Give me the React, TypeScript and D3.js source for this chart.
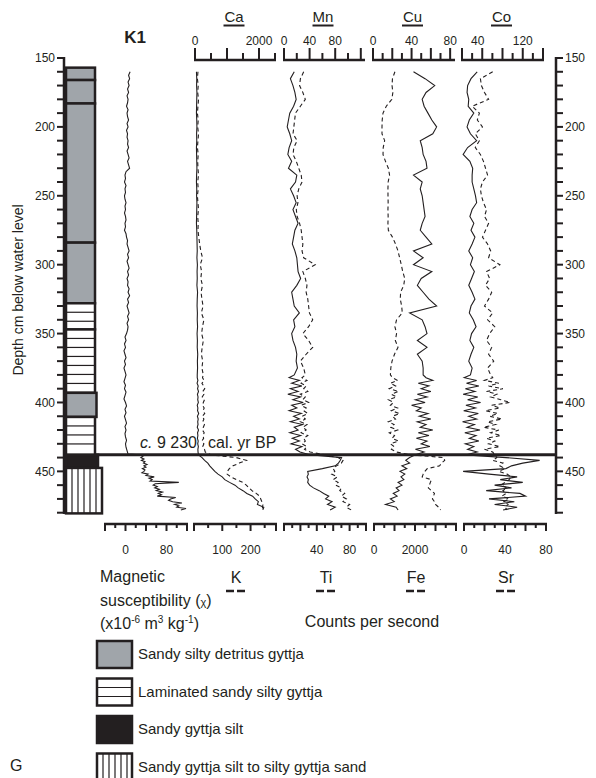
import * as d3 from 'd3';

// sample depths (cm) of the XRF scans
const xrfDepth = [
  160, 165, 170, 175, 180, 185, 190, 195, 200, 205, 210, 215, 220, 225, 230, 235, 240, 245, 250, 255, 260, 265, 270, 275, 280, 285, 290, 295, 300, 305, 310, 315, 320, 325, 330, 335, 340, 345, 350, 355, 360, 365, 370, 375, 380,
  382, 384, 386, 388, 390, 392, 394, 396, 398, 400, 402, 404, 406, 408, 410, 412, 414, 416, 418, 420, 422, 424, 426, 428, 430, 432, 434, 436,
  438, 440, 442, 444, 446, 448, 450, 452, 454, 456, 458, 460, 462, 464, 466, 468, 470, 472, 474, 476, 478,
];

const ca = [
  45, 55, 50, 60, 55, 50, 45, 55, 60, 50, 55, 45, 50, 55, 60, 50, 45, 55, 50, 60, 55, 50, 45, 55, 60, 65, 70, 60, 75, 65, 70, 60, 80, 70, 65, 75, 70, 80, 65, 75, 70, 85, 75, 80, 70,
  70, 90, 65, 100, 80, 110, 75, 95, 85, 105, 70, 90, 80, 115, 75, 100, 85, 95, 70, 110, 80, 90, 75, 100, 85, 105, 90, 95,
  110, 220, 300, 400, 460, 540, 620, 720, 850, 930, 1080, 1250, 1350, 1500, 1620, 1800, 1880, 1980, 1950, 2150, 2120,
];
const k = [
  14, 12, 15, 13, 16, 14, 12, 15, 13, 16, 14, 12, 15, 13, 14, 16, 13, 15, 12, 14, 16, 13, 15, 14, 17, 20, 24, 30, 22, 27, 24, 30, 25, 28, 32, 26, 35, 30, 27, 33, 29, 26, 31, 28, 33,
  30, 36, 28, 34, 38, 31, 35, 29, 37, 33, 30, 36, 32, 38, 29, 35, 31, 37, 33, 30, 36, 32, 34, 28, 35, 31, 37, 40,
  60, 150, 185, 160, 138, 125, 118, 117, 130, 150, 172, 185, 195, 205, 220, 232, 236, 240, 244, 242, 246,
];
const mn = [
  16, 10, 14, 17, 19, 15, 9, 7, 5, 9, 12, 8, 6, 12, 7, 20, 18, 10, 15, 19, 14, 18, 22, 17, 15, 13, 17, 20, 21, 22, 26, 20, 12, 14, 16, 24, 15, 17, 12, 14, 18, 20, 19, 21, 16,
  8, 24, 12, 28, 10, 22, 6, 26, 14, 30, 12, 20, 8, 27, 15, 24, 10, 29, 16, 22, 9, 26, 13, 24, 11, 28, 18, 25,
  40, 90, 88, 85, 80, 60, 37, 38, 36, 38, 37, 40, 46, 55, 62, 70, 65, 75, 68, 80, 72,
];
const ti = [
  24, 20, 19, 23, 26, 20, 14, 13, 12, 11, 16, 12, 11, 15, 18, 21, 22, 18, 16, 17, 15, 16, 19, 21, 22, 23, 22, 24, 38, 23, 26, 28, 27, 29, 30, 31, 35, 30, 23, 30, 35, 27, 20, 24, 26,
  22, 28, 21, 27, 24, 29, 20, 26, 23, 30, 21, 27, 24, 29, 22, 26, 20, 28, 23, 27, 21, 29, 24, 26, 22, 28, 25, 32,
  50, 66, 72, 70, 64, 60, 62, 58, 65, 60, 66, 63, 70, 68, 74, 70, 76, 72, 80, 76, 82,
];
const cu = [
  42, 54, 64, 55, 51, 53, 57, 61, 66, 62, 49, 51, 52, 55, 56, 42, 51, 49, 51, 52, 53, 54, 51, 49, 55, 61, 42, 52, 42, 61, 50, 46, 52, 58, 66, 38, 51, 54, 56, 46, 56, 46, 51, 52, 52,
  55, 62, 47, 58, 50, 60, 46, 56, 44, 54, 40, 50, 45, 57, 48, 60, 46, 55, 49, 62, 47, 58, 45, 56, 50, 59, 44, 53,
  44, 38, 34, 38, 30, 35, 28, 33, 29, 32, 26, 30, 24, 27, 21, 25, 18, 22, 13, 24, 26,
];
const fe = [
  1020, 900, 880, 920, 870, 600, 440, 400, 390, 390, 520, 450, 440, 560, 700, 760, 690, 680, 683, 690, 680, 690, 680, 700, 900, 1050, 1170, 1250, 1330, 1400, 1500, 1450, 1300, 1280, 1350, 1380, 1100, 1020, 1100, 1040, 1170, 1000, 880, 820, 800,
  900, 1150, 800, 1050, 750, 1200, 850, 1100, 700, 950, 800, 1150, 850, 1250, 900, 1050, 700, 980, 820, 1150, 750, 1000, 880, 1200, 800, 980, 850, 1100,
  1800, 3400, 3450, 3300, 3200, 2600, 2480, 2400, 2350, 2800, 2750, 2700, 2650, 2800, 2950, 2900, 2850, 2950, 3000, 3150, 3250,
];
const co = [
  39, 28, 22, 21, 24, 23, 33, 25, 21, 27, 38, 22, 14, 26, 31, 30, 30, 33, 36, 38, 30, 26, 33, 28, 35, 30, 24, 31, 27, 34, 29, 24, 30, 35, 28, 25, 32, 37, 29, 26, 33, 28, 24, 30, 27,
  16, 38, 20, 42, 18, 35, 14, 40, 22, 45, 19, 36, 15, 41, 24, 38, 13, 34, 21, 44, 17, 37, 25, 42, 18, 33, 22, 39,
  20, 90, 150, 120, 100, 90, 14, 60, 110, 80, 120, 70, 100, 55, 115, 125, 60, 105, 70, 110, 85,
];
const sr = [
  28, 16, 17, 20, 24, 8, 15, 13, 18, 11, 15, 11, 16, 19, 21, 23, 18, 16, 17, 19, 22, 20, 24, 21, 18, 23, 26, 24, 35, 22, 25, 21, 27, 24, 20, 28, 23, 30, 25, 22, 27, 24, 29, 23, 26,
  28, 20, 34, 24, 38, 22, 32, 26, 36, 45, 27, 35, 21, 33, 25, 37, 23, 31, 19, 34, 26, 36, 22, 30, 24, 35, 20, 28,
  30, 32, 28, 38, 35, 40, 34, 42, 46, 44, 40, 36, 42, 38, 41, 37, 44, 39, 43, 40, 42,
];

// magnetic susceptibility
const magDepth = [
  160, 162.5, 165, 167.5, 170, 172.5, 175, 177.5, 180, 182.5, 185, 187.5, 190, 192.5, 195, 197.5, 200, 202.5, 205, 207.5, 210, 212.5, 215, 217.5, 220, 222.5, 225, 227.5, 230,
  232.5, 235, 237.5, 240, 242.5, 245, 247.5, 250, 252.5, 255, 257.5, 260, 262.5, 265, 267.5, 270, 272.5, 275, 277.5, 280,
  282.5, 285, 287.5, 290, 292.5, 295, 297.5, 300, 302.5, 305, 307.5, 310, 312.5, 315, 317.5, 320, 322.5, 325, 327.5, 330, 332.5, 335, 337.5, 340, 342.5, 345, 347.5, 350,
  352.5, 355, 357.5, 360, 362.5, 365, 367.5, 370, 372.5, 375, 377.5, 380, 382.5, 385, 387.5, 390, 392.5, 395, 397.5, 400, 402.5, 405, 407.5, 410, 412.5, 415, 417.5, 420, 422.5, 425, 427.5, 430, 432.5, 435, 437.5,
  438, 439, 440, 441, 442, 443, 444, 445, 446, 447, 448, 449, 450, 451, 452, 453, 454, 455, 456, 457, 458, 459, 460, 461, 462, 463, 464, 465, 466, 467, 468, 469, 470, 471, 472, 473, 474, 475, 476, 477, 478,
];
const magSus = [
  9, 6, 8, 5, 7, 4, 6, 3, 5, 4, 2, 5, 3, 4, 6, 3, 5, 2, 4, 3, 5, 4, 6, 3, 5, 7, 4, 6, 8,
  1, -1, 0, -2, 1, -1, 0, -2, -1, 1, -1, 0, -2, 0, 1, -1, 0, -2, 1, 2,
  4, 3, 5, 7, 4, 6, 3, 5, 7, 4, 6, 3, 5, 4, 7, 5, 8, 4, 6, 3, 5, 7, 4, 6, 3, 5, 4, 2,
  -1, 1, -2, 0, -3, -1, 1, -2, 0, -3, -1, 1, -1, -3, 0, -2, 1, -1, -3, 0, 2, -1, 1, -2, 0, 2, -1, 1, -1, 0, 2, 0, 1, 3, 5,
  28, 34, 30, 36, 31, 38, 35, 42, 36, 40, 33, 38, 36, 32, 44, 40, 56, 46, 52, 48, 104, 58, 54, 62, 57, 66, 60, 72, 64, 70, 62, 98, 88, 84, 92, 110, 96, 104, 100, 118, 108,
];

// lithology
const lithTop = [157, 166, 183, 284, 328, 347, 393, 410.5, 438, 447.5];
const lithBase = [166, 183, 284, 328, 347, 393, 410.5, 438, 447.5, 480.5];
const lithKind = ['detritus', 'detritus', 'detritus', 'detritus', 'laminated', 'laminated', 'detritus', 'laminated', 'silt', 'sand'];

const legendKinds = ['detritus', 'laminated', 'silt', 'sand'];
const legendLabels = [
  'Sandy silty detritus gyttja',
  'Laminated sandy silty gyttja',
  'Sandy gyttja silt',
  'Sandy gyttja silt to silty gyttja sand',
];

const depthLabels = [150, 200, 250, 300, 350, 400, 450];
const caLabels = [0, 2000];
const mnLabels = [0, 40, 80];
const cuLabels = [0, 40, 80];
const coLabels = [40, 120];
const magLabels = [0, 80];
const kLabels = [100, 200];
const tiLabels = [40, 80];
const feLabels = [0, 2000];
const srLabels = [0, 40, 80];

const boundaryDepth = 438;

const INK = '#231f20';
const GREY = '#a0a5aa';
const FONT = '"Liberation Sans", Arial, Helvetica, sans-serif';

type Scale = d3.ScaleLinear<number, number>;

function TopAxis({ sx, ticks, labels, name, lineY }: { sx: Scale; ticks: number[]; labels: number[]; name: string; lineY: number }) {
  const [r0, r1] = sx.range();
  const cx = (r0 + r1) / 2 - 1;
  return (
    <g>
      <text x={cx} y={22} textAnchor="middle" fontSize={15}>{name}</text>
      <line x1={cx - 10.5} x2={cx + 10.5} y1={25.5} y2={25.5} stroke={INK} strokeWidth={2} />
      {labels.map((v) => (
        <text key={v} x={sx(v)} y={45} textAnchor="middle" fontSize={12}>{v}</text>
      ))}
      <line x1={r0 - 1} x2={r1 + 1} y1={lineY} y2={lineY} stroke={INK} strokeWidth={2.5} />
      {ticks.map((t, i) => (
        <line key={t} x1={sx(t)} x2={sx(t)} y1={lineY} y2={lineY - (i % 2 === 0 ? 12 : 7)} stroke={INK} strokeWidth={2} />
      ))}
    </g>
  );
}

function BottomAxis({ sx, ticks, labels, name, lineY }: { sx: Scale; ticks: number[]; labels: number[]; name?: string; lineY: number }) {
  const [r0, r1] = sx.range();
  const cx = (r0 + r1) / 2 + 1;
  return (
    <g>
      <line x1={r0 - 1} x2={r1 + 1} y1={lineY} y2={lineY} stroke={INK} strokeWidth={2.5} />
      {ticks.map((t, i) => (
        <line key={t} x1={sx(t)} x2={sx(t)} y1={lineY} y2={lineY + (i % 2 === 0 ? 7 : 4)} stroke={INK} strokeWidth={2} />
      ))}
      {labels.map((v) => (
        <text key={v} x={sx(v)} y={lineY + 30} textAnchor="middle" fontSize={12}>{v}</text>
      ))}
      {name && (
        <g>
          <text x={cx} y={583} textAnchor="middle" fontSize={16}>{name}</text>
          <line x1={cx - 10} x2={cx + 10} y1={591} y2={591} stroke={INK} strokeWidth={2.5} strokeDasharray="8,3" />
        </g>
      )}
    </g>
  );
}

function LithBox({ kind, x, y0, w, h }: { kind: string; x: number; y0: number; w: number; h: number }) {
  const inner: JSX.Element[] = [];
  if (kind === 'laminated') {
    for (let yy = y0 + 9; yy < y0 + h - 3; yy += 9) {
      inner.push(<line key={yy} x1={x} x2={x + w} y1={yy} y2={yy} stroke={INK} strokeWidth={1.2} />);
    }
  }
  if (kind === 'sand') {
    for (let xx = x + 6; xx < x + w - 2; xx += 6) {
      inner.push(<line key={xx} x1={xx} x2={xx} y1={y0} y2={y0 + h} stroke={INK} strokeWidth={1.2} />);
    }
  }
  const fill = kind === 'detritus' ? GREY : kind === 'silt' ? INK : '#fff';
  return (
    <g>
      <rect x={x} y={y0} width={w} height={h} fill={fill} />
      {inner}
      <rect x={x} y={y0} width={w} height={h} fill="none" stroke={INK} strokeWidth={2.5} />
    </g>
  );
}

export default function App() {
  const y = d3.scaleLinear().domain([150, 480]).range([58, 512.7]);

  const caX = d3.scaleLinear().domain([0, 2500]).range([195, 275]);
  const mnX = d3.scaleLinear().domain([0, 125]).range([284, 364]);
  const cuX = d3.scaleLinear().domain([0, 84]).range([373, 454]);
  const coX = d3.scaleLinear().domain([12, 156]).range([462, 543]);

  const magX = d3.scaleLinear().domain([-40, 120]).range([105, 187]);
  const kX = d3.scaleLinear().domain([0, 290]).range([194, 276]);
  const tiX = d3.scaleLinear().domain([0, 100]).range([284, 366]);
  const feX = d3.scaleLinear().domain([0, 4000]).range([374, 456]);
  const srX = d3.scaleLinear().domain([0, 80]).range([464, 546]);

  const xrfLine = (vals: number[], sx: Scale) =>
    d3.line<number>().x((v) => sx(v)).y((_, i) => y(xrfDepth[i]))(vals) ?? '';
  const magPath = d3.line<number>().x((v) => magX(v)).y((_, i) => y(magDepth[i]))(magSus) ?? '';

  const series = [
    { vals: ca, sx: caX, dashed: false },
    { vals: k, sx: kX, dashed: true },
    { vals: mn, sx: mnX, dashed: false },
    { vals: ti, sx: tiX, dashed: true },
    { vals: cu, sx: cuX, dashed: false },
    { vals: fe, sx: feX, dashed: true },
    { vals: co, sx: coX, dashed: false },
    { vals: sr, sx: srX, dashed: true },
  ];

  const depthTicks = d3.range(150, 481, 10);
  const leftX = 64;
  const rightX = 556;
  const colX = 66;
  const widthFor = (kind: string, i: number) =>
    kind === 'sand' ? 36 : kind === 'silt' ? 32 : i === 6 ? 30.5 : 29;

  const yB = y(boundaryDepth);

  return (
    <svg
      width={596}
      height={778}
      style={{ position: 'absolute', left: 0, top: 0, background: '#fff' }}
      fontFamily={FONT}
      fill={INK}
    >
      <rect x={0} y={0} width={596} height={778} fill="#fff" />

      {/* left depth axis */}
      <line x1={leftX} x2={leftX} y1={y(150) - 1} y2={y(481)} stroke={INK} strokeWidth={2.5} />
      {depthTicks.map((t) => (
        <line key={t} x1={leftX - 7} x2={leftX} y1={y(t)} y2={y(t)} stroke={INK} strokeWidth={2} />
      ))}
      {depthLabels.map((t) => (
        <text key={t} x={leftX - 9} y={y(t)} dy="0.36em" textAnchor="end" fontSize={12}>{t}</text>
      ))}
      <text transform={`translate(23,290) rotate(-90)`} textAnchor="middle" fontSize={14}>
        Depth cm below water level
      </text>

      {/* right depth axis */}
      <line x1={rightX} x2={rightX} y1={y(150) - 1} y2={y(481)} stroke={INK} strokeWidth={2.5} />
      {depthTicks.map((t) => (
        <line key={t} x1={rightX} x2={rightX + 7} y1={y(t)} y2={y(t)} stroke={INK} strokeWidth={2} />
      ))}
      {depthLabels.map((t) => (
        <text key={t} x={rightX + 9} y={y(t)} dy="0.36em" textAnchor="start" fontSize={12}>{t}</text>
      ))}

      {/* lithology column */}
      {lithKind.map((kind, i) => (
        <LithBox
          key={i}
          kind={kind}
          x={colX}
          y0={y(lithTop[i])}
          w={widthFor(kind, i)}
          h={y(lithBase[i]) - y(lithTop[i])}
        />
      ))}

      <text x={135} y={43} textAnchor="middle" fontSize={17} fontWeight="bold">K1</text>

      {/* top scales */}
      <TopAxis sx={caX} ticks={d3.range(0, 2501, 500)} labels={caLabels} name="Ca" lineY={60} />
      <TopAxis sx={mnX} ticks={d3.range(0, 125, 20)} labels={mnLabels} name="Mn" lineY={60} />
      <TopAxis sx={cuX} ticks={d3.range(0, 81, 10)} labels={cuLabels} name="Cu" lineY={60} />
      <TopAxis sx={coX} ticks={d3.range(12, 157, 18)} labels={coLabels} name="Co" lineY={60} />

      {/* bottom scales */}
      <BottomAxis sx={magX} ticks={d3.range(-40, 121, 20)} labels={magLabels} lineY={524} />
      <BottomAxis sx={kX} ticks={[...d3.range(0, 251, 50), 290]} labels={kLabels} name="K" lineY={524} />
      <BottomAxis sx={tiX} ticks={d3.range(0, 101, 10)} labels={tiLabels} name="Ti" lineY={524} />
      <BottomAxis sx={feX} ticks={d3.range(0, 4001, 500)} labels={feLabels} name="Fe" lineY={524} />
      <BottomAxis sx={srX} ticks={d3.range(0, 81, 10)} labels={srLabels} name="Sr" lineY={524} />

      {/* curves */}
      <path d={magPath} fill="none" stroke={INK} strokeWidth={1.1} />
      {series.map((s, i) => (
        <path
          key={i}
          d={xrfLine(s.vals, s.sx)}
          fill="none"
          stroke={INK}
          strokeWidth={1.1}
          strokeDasharray={s.dashed ? '4,3' : undefined}
        />
      ))}

      {/* dated boundary */}
      <line x1={96} x2={rightX} y1={yB} y2={yB} stroke={INK} strokeWidth={3} />
      <text x={197} y={448} textAnchor="end" fontSize={16}>
        <tspan fontStyle="italic">c.</tspan> 9 230
      </text>
      <text x={208} y={448} fontSize={16}>cal. yr BP</text>

      {/* bottom titles */}
      <text x={100} y={582} fontSize={16}>Magnetic</text>
      <text x={100} y={606} fontSize={16}>
        susceptibility (<tspan fontSize={11}>χ</tspan>)
      </text>
      <text x={100} y={629} fontSize={16}>
        (x10<tspan fontSize={10} dy={-6}>-6</tspan>
        <tspan dy={6}> m</tspan>
        <tspan fontSize={10} dy={-6}>3</tspan>
        <tspan dy={6}> kg</tspan>
        <tspan fontSize={10} dy={-6}>-1</tspan>
        <tspan dy={6}>)</tspan>
      </text>
      <text x={372} y={627} textAnchor="middle" fontSize={16}>Counts per second</text>

      {/* legend */}
      {legendKinds.map((kind, i) => {
        const top = 641 + i * 37.5;
        return (
          <g key={kind}>
            <LithBox kind={kind} x={97} y0={top} w={35} h={27} />
            <text x={138} y={top + 18} fontSize={15}>{legendLabels[i]}</text>
          </g>
        );
      })}
      <text x={10} y={771} fontSize={16}>G</text>
    </svg>
  );
}
